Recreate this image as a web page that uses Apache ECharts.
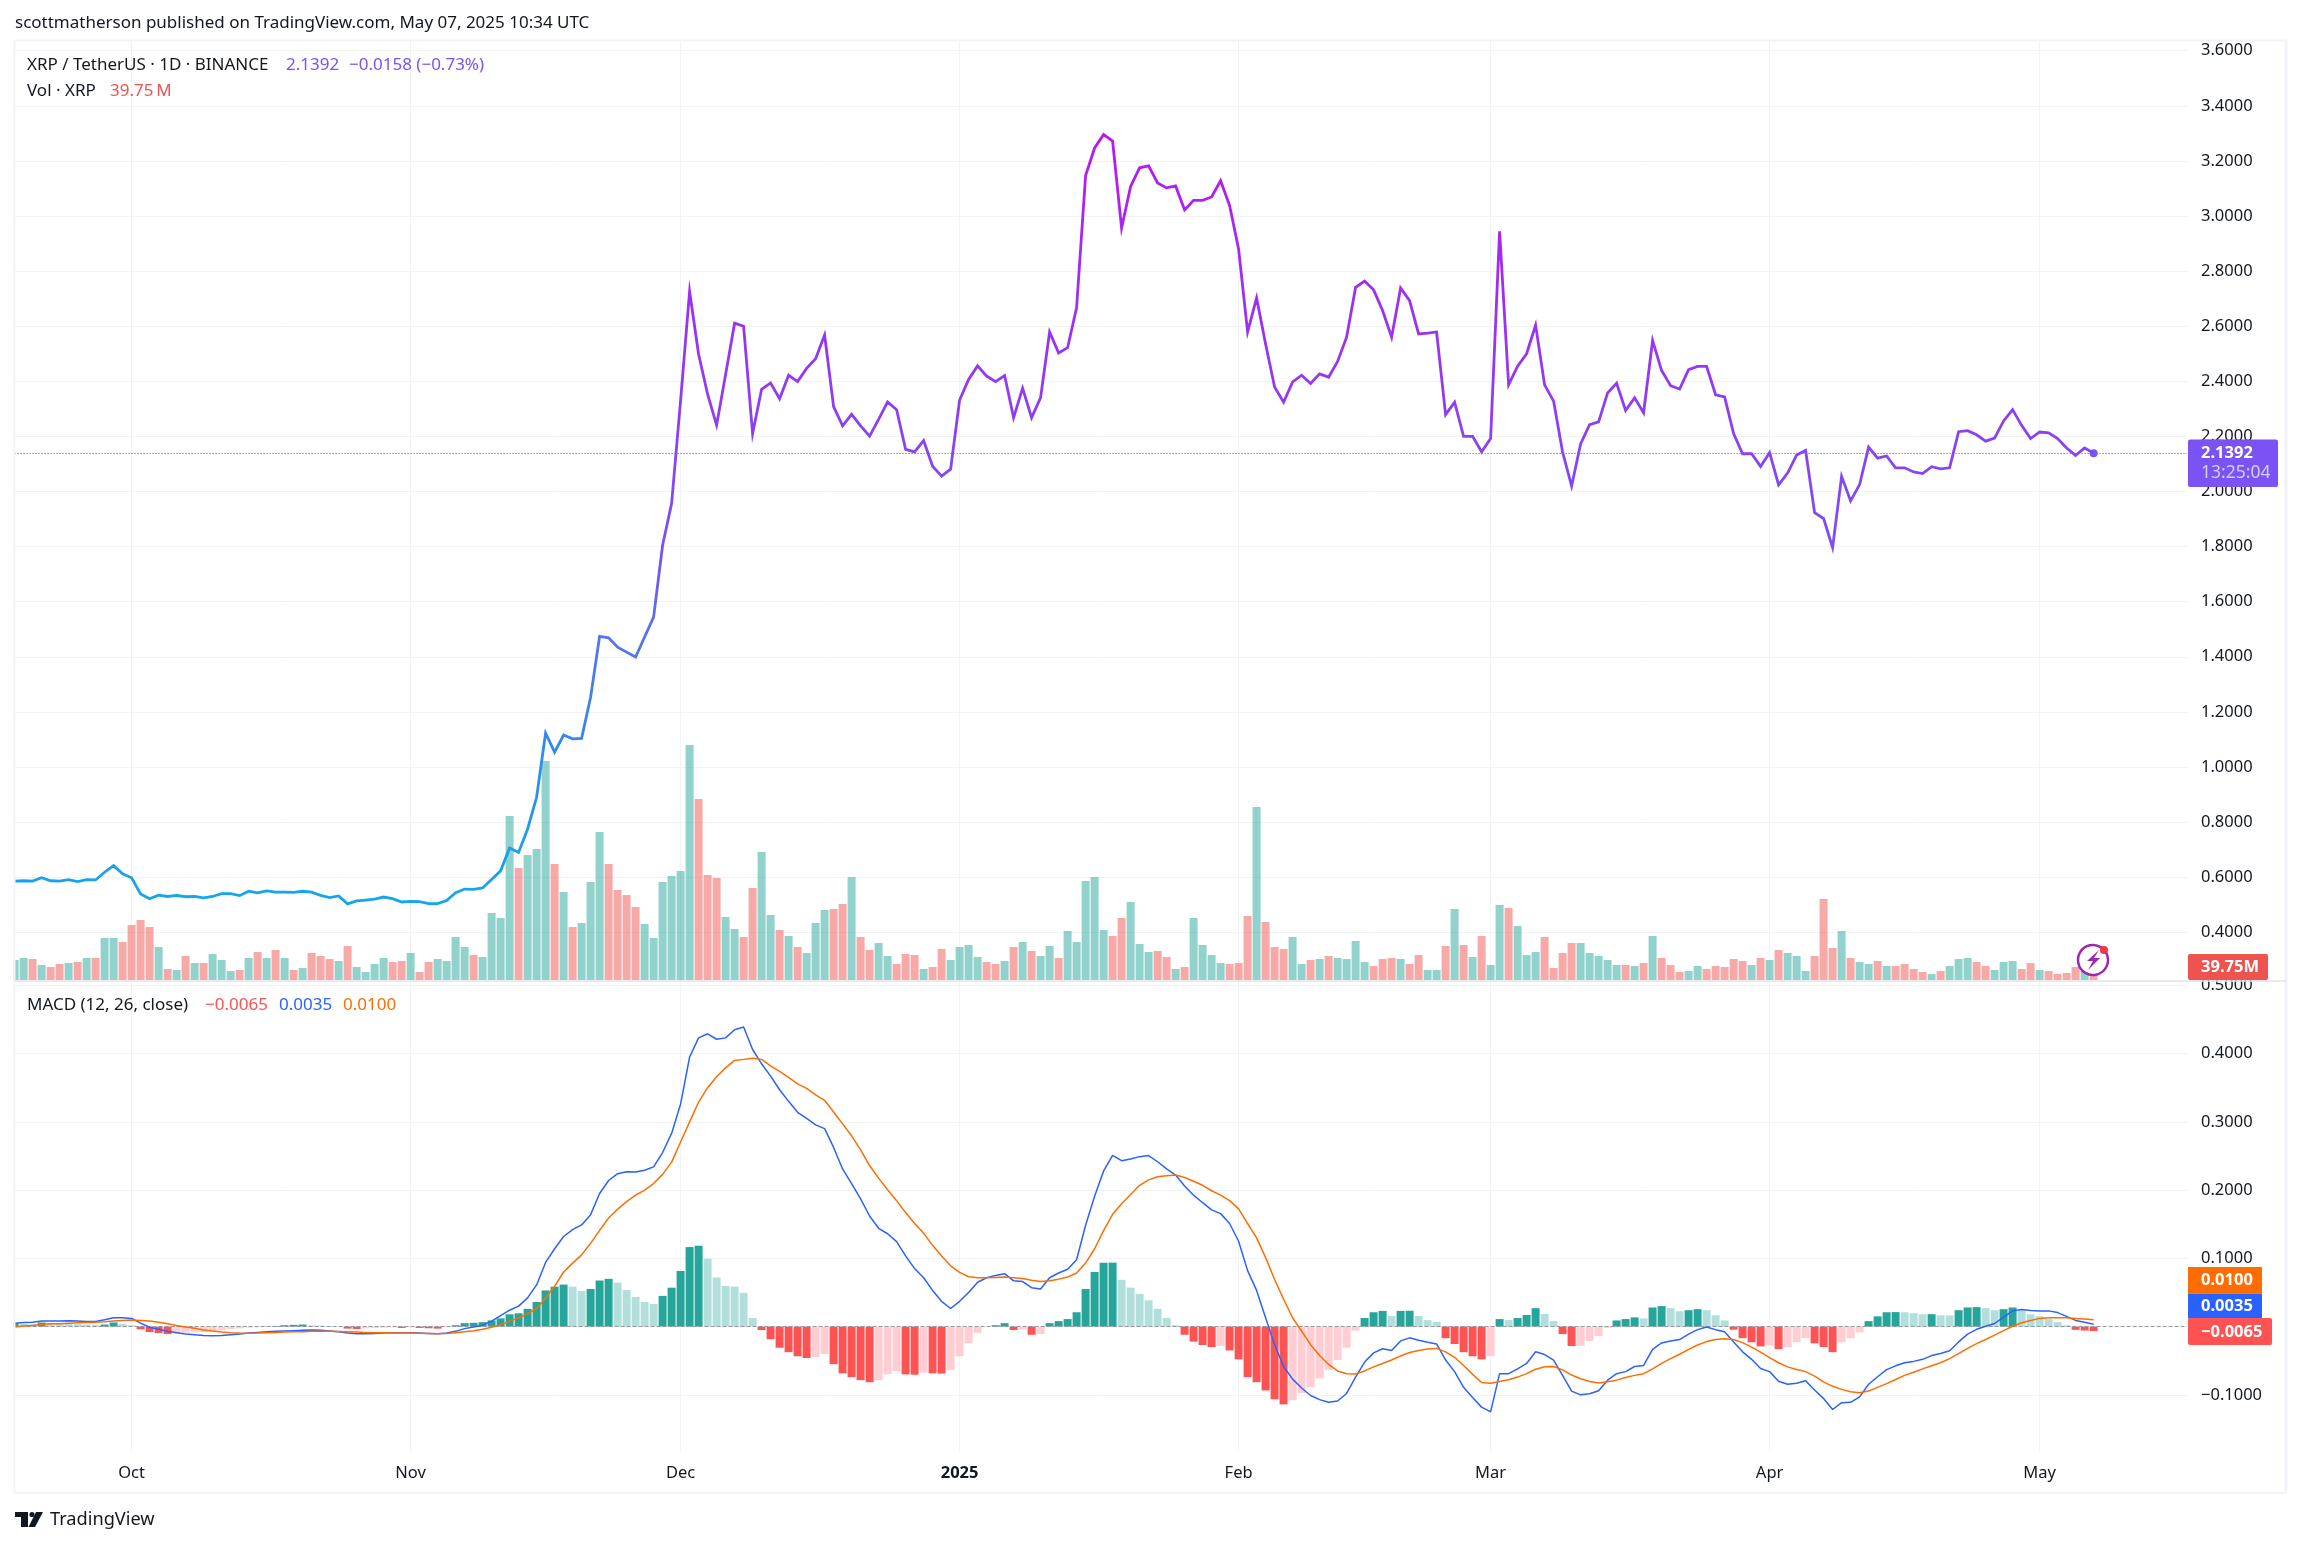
<!DOCTYPE html>
<html><head><meta charset="utf-8">
<style>html,body{margin:0;padding:0;background:#fff}#c{width:2301px;height:1546px}</style>
<script src="https://cdn.jsdelivr.net/npm/echarts@6/dist/echarts.min.js"></script>
</head><body><div id="c"></div>
<script>
// Day index 0 = 2024-09-18, one value per day up to 2025-05-07 (index 231)
const monthTicks = [13,44,74,105,136,164,195,225];
const monthLabels = ['Oct','Nov','Dec','2025','Feb','Mar','Apr','May'];
const priceTicks = [0.4,0.6,0.8,1.0,1.2,1.4,1.6,1.8,2.0,2.2,2.4,2.6,2.8,3.0,3.2,3.4,3.6];
const macdTicks = [-0.1,0.1,0.2,0.3,0.4,0.5];
const close = [
.586,.587,.586,.598,.587,.586,.591,.584,.591,.590,
.618,.642,.612,.598,.539,.522,.535,.530,.534,.529,
.530,.525,.530,.540,.540,.533,.549,.543,.550,.546,
.546,.545,.549,.546,.534,.526,.532,.503,.514,.517,
.520,.528,.522,.510,.512,.511,.504,.504,.515,.544,
.557,.556,.561,.592,.623,.706,.690,.775,.890,1.123,
1.054,1.116,1.102,1.104,1.253,1.474,1.469,1.435,1.417,1.399,
1.472,1.544,1.805,1.956,2.33,2.726,2.498,2.353,2.241,2.425,
2.611,2.600,2.210,2.371,2.394,2.337,2.422,2.399,2.447,2.482,
2.568,2.308,2.238,2.280,2.238,2.201,2.262,2.325,2.297,2.153,
2.144,2.185,2.092,2.056,2.081,2.332,2.407,2.456,2.419,2.399,
2.421,2.268,2.375,2.268,2.341,2.579,2.503,2.522,2.668,3.147,
3.247,3.296,3.272,2.956,3.107,3.175,3.182,3.120,3.102,3.109,
3.022,3.057,3.057,3.069,3.128,3.038,2.880,2.579,2.702,2.535,
2.379,2.324,2.398,2.422,2.392,2.427,2.415,2.472,2.560,2.741,
2.764,2.732,2.657,2.560,2.739,2.693,2.572,2.575,2.579,2.279,
2.324,2.200,2.200,2.144,2.192,2.944,2.387,2.455,2.500,2.604,
2.387,2.328,2.143,2.020,2.173,2.243,2.253,2.358,2.393,2.294,
2.340,2.286,2.548,2.439,2.384,2.372,2.442,2.454,2.454,2.351,
2.343,2.210,2.137,2.137,2.091,2.141,2.024,2.067,2.132,2.149,
1.923,1.902,1.796,2.055,1.966,2.025,2.161,2.121,2.129,2.086,
2.086,2.071,2.065,2.090,2.082,2.086,2.217,2.221,2.206,2.183,
2.194,2.256,2.297,2.240,2.192,2.216,2.213,2.192,2.158,2.131,
2.158,2.1392];
const volume = [
60,66,63,45,39,48,51,54,66,66,
126,126,114,165,180,159,99,33,30,72,
51,51,78,60,27,30,66,84,66,90,
66,30,36,81,72,63,57,102,39,24,
48,66,54,57,81,24,54,63,57,129,
99,75,69,201,186,492,336,375,393,657,
348,264,159,171,294,444,348,270,255,219,
168,126,294,312,327,705,543,315,306,189,
153,129,276,384,195,150,132,99,81,171,
210,213,228,309,129,90,111,72,48,78,
75,33,39,93,60,99,105,69,54,48,
57,99,114,87,72,102,66,147,114,297,
309,150,132,186,234,108,84,87,69,33,
39,186,105,75,51,48,51,192,519,174,
99,93,129,48,60,63,72,66,63,117,
54,42,63,66,63,48,75,30,30,102,
213,105,69,132,45,225,216,162,75,84,
129,36,81,111,111,81,72,60,45,45,
42,51,132,66,45,24,27,42,33,42,
39,63,57,45,66,60,90,81,72,27,
72,243,96,147,66,54,48,57,42,42,
48,33,24,18,27,42,63,66,54,42,
30,54,57,33,51,30,27,18,21,39,
27,39.75];
const volumeDirs = [
"GGRGRRGRGR","GGRRRRGRGR","GRGGGRGRGR","GRGRRRGRGG",
"GGRRGRRGGG","GRGGGGRGGG","RGRGGGRRRR","GGGGGGRRRG",
"GRRGGRGRGG","GRRGRRGGRR","RGRRGGGGRR","GRGRGGRGGG",
"GGRRGGGRRG","RGGGGRRRGR","RRGGRGRGGG","GRRRGRRGGR",
"GRGRGGRGGG","RRRRGGGGGR","GRGRRRGGRR","RRRGRGRGGG",
"RRRGRGGRGR","RRRGRGGGRR","GGGRRGRRRR","GR"].join("");
const macdLine = [
.005,.006,.0065,.008,.008,.008,.0085,.008,.0075,.0075,
.010,.013,.013,.012,.005,-.001,-.004,-.007,-.009,-.011,
-.012,-.013,-.0135,-.013,-.012,-.011,-.0095,-.0085,-.0075,-.007,
-.0065,-.006,-.0055,-.005,-.0055,-.0065,-.0075,-.0095,-.0105,-.0105,
-.010,-.0095,-.009,-.009,-.009,-.0095,-.010,-.0105,-.0095,-.007,
-.003,-.0005,.002,.008,.016,.024,.030,.042,.061,.094,
.114,.132,.142,.149,.164,.195,.214,.224,.227,.2265,
.229,.234,.255,.283,.326,.395,.423,.429,.421,.423,
.435,.439,.406,.385,.367,.347,.330,.314,.305,.2955,
.290,.2625,.231,.2095,.187,.162,.144,.136,.1245,.1035,
.085,.0715,.053,.037,.0265,.037,.050,.065,.0715,.075,
.0775,.067,.066,.057,.055,.0715,.0785,.084,.098,.1485,
.191,.228,.251,.243,.2455,.249,.2505,.2415,.231,.222,
.206,.1925,.1815,.171,.1655,.151,.125,.082,.053,.013,
-.0265,-.0585,-.077,-.090,-.101,-.107,-.111,-.109,-.098,-.074,
-.052,-.0385,-.0325,-.035,-.021,-.0165,-.020,-.023,-.0255,-.049,
-.066,-.089,-.104,-.118,-.125,-.069,-.069,-.062,-.054,-.037,
-.041,-.049,-.0715,-.0945,-.100,-.0985,-.094,-.0785,-.069,-.066,
-.0585,-.057,-.0335,-.024,-.021,-.019,-.011,-.0045,-.0005,-.0045,
-.0075,-.0225,-.037,-.048,-.0615,-.066,-.080,-.0845,-.083,-.0795,
-.093,-.1055,-.1215,-.1115,-.111,-.103,-.0845,-.0735,-.063,-.0575,
-.053,-.051,-.048,-.0425,-.0395,-.0355,-.0225,-.011,-.004,.0005,
.0045,.014,.023,.025,.0235,.023,.023,.0205,.015,.009,
.0063,.0035];
const signalLine = [
-.0005,.001,.0015,.003,.004,.004,.005,.0055,.006,.0065,
.007,.008,.009,.0095,.009,.008,.0065,.004,.0015,-.0005,
-.0025,-.005,-.0065,-.008,-.009,-.0095,-.0098,-.0095,-.009,-.0085,
-.008,-.0077,-.0075,-.007,-.007,-.007,-.0072,-.0075,-.008,-.0085,
-.009,-.009,-.0093,-.0095,-.0095,-.0098,-.010,-.0105,-.010,-.009,
-.0075,-.006,-.004,-.001,.0025,.008,.013,.0185,.0265,.042,
.059,.080,.093,.105,.122,.141,.159,.172,.183,.1925,
.200,.2095,.223,.241,.2705,.300,.329,.350,.366,.379,
.390,.3915,.393,.3915,.382,.374,.365,.3555,.349,.3395,
.3315,.3145,.297,.2795,.259,.236,.2175,.2005,.1845,.167,
.151,.137,.119,.1035,.089,.0795,.073,.0715,.0715,.072,
.0725,.0715,.0705,.068,.066,.067,.0695,.0725,.0785,.093,
.114,.1405,.1645,.180,.1935,.207,.215,.2195,.221,.222,
.2185,.213,.207,.199,.1925,.1845,.1725,.151,.130,.101,
.069,.040,.013,-.0065,-.0265,-.0425,-.0555,-.065,-.069,-.0695,
-.065,-.059,-.054,-.049,-.043,-.038,-.035,-.033,-.032,-.037,
-.045,-.057,-.070,-.082,-.083,-.0805,-.078,-.074,-.069,-.0625,
-.059,-.0585,-.0635,-.071,-.0765,-.0805,-.0825,-.081,-.0785,-.0745,
-.0715,-.069,-.062,-.054,-.047,-.0405,-.0335,-.027,-.022,-.019,
-.018,-.019,-.0235,-.030,-.0375,-.0455,-.053,-.059,-.063,-.066,
-.0725,-.081,-.0875,-.092,-.0955,-.097,-.0945,-.089,-.0835,-.0775,
-.0715,-.067,-.062,-.0575,-.053,-.047,-.0395,-.032,-.025,-.019,
-.0125,-.006,.0005,.0055,.009,.012,.013,.013,.013,.012,
.011,.0100];
const histogram = [
.0045,.004,.0035,.006,.005,.0045,.004,.0035,.003,.0025,
.003,.006,.004,.002,-.004,-.008,-.0095,-.011,-.0095,-.009,
-.0085,-.008,-.007,-.0055,-.0035,-.0025,-.0015,-.001,.0005,.001,
.002,.0025,.003,.002,.0015,.0005,.0003,-.003,-.0035,-.0025,
-.002,-.0015,-.001,-.002,-.001,-.002,-.0025,-.003,-.001,.002,
.005,.0055,.0065,.009,.012,.018,.0195,.026,.036,.053,
.0585,.0615,.0585,.052,.055,.0675,.070,.0645,.0535,.0435,
.036,.033,.045,.057,.0815,.1165,.1185,.0995,.072,.0595,
.0585,.0495,.0125,-.005,-.0185,-.031,-.0375,-.0435,-.046,-.0445,
-.040,-.055,-.0685,-.074,-.0785,-.0815,-.0785,-.070,-.065,-.070,
-.0705,-.0675,-.0685,-.0688,-.0635,-.0435,-.0245,-.0095,-.001,.002,
.005,-.005,-.0045,-.012,-.011,.005,.008,.011,.021,.055,
.080,.0935,.0937,.0685,.057,.048,.0385,.026,.0125,.002,
-.012,-.022,-.027,-.030,-.0285,-.035,-.048,-.074,-.0815,-.0935,
-.1065,-.114,-.108,-.0975,-.089,-.076,-.0635,-.049,-.031,-.006,
.0125,.021,.023,.0155,.023,.0232,.0155,.0095,.007,-.017,
-.0255,-.0375,-.0435,-.048,-.0435,.011,.0095,.0125,.017,.027,
.0185,.008,-.011,-.0285,-.0283,-.021,-.014,-.002,.009,.011,
.0135,.012,.028,.030,.027,.0225,.024,.0255,.024,.0165,
.009,-.0045,-.017,-.023,-.029,-.0275,-.033,-.030,-.023,-.017,
-.0245,-.030,-.0375,-.023,-.017,-.0085,.008,.015,.021,.0212,
.021,.0195,.018,.0182,.0165,.0164,.024,.028,.0285,.027,
.024,.0255,.028,.024,.018,.015,.011,.0065,.002,-.0048,
-.0058,-.0065];

const FONT = '"Noto Sans", sans-serif';
const INK = '#131722';
const GRIDC = '#f2f3f5';
const PURPLE = '#7b52f4';
const X0 = 14.6, XR = 2187, XMAX = (XR - X0) / 9;
const idx = a => a.map((v, i) => [i, v]);

const xAxisBase = {
  type: 'value', min: 0, max: XMAX, position: 'bottom',
  axisLine: {show: false},
  axisTick: {show: false, customValues: monthTicks},
  splitLine: {show: true, lineStyle: {color: GRIDC, width: 1}}
};
const chart = echarts.init(document.getElementById('c'), null, {width: 2301, height: 1546});
chart.setOption({
  animation: false,
  backgroundColor: '#fff',
  grid: [
    {left: X0, width: XR - X0, top: 41, height: 940, containLabel: false},
    {left: X0, width: XR - X0, top: 981.5, height: 469.5, containLabel: false}
  ],
  xAxis: [
    Object.assign({}, xAxisBase, {gridIndex: 0, axisLabel: {show: false, customValues: monthTicks}}),
    Object.assign({}, xAxisBase, {gridIndex: 1, axisLabel: {
      show: true, customValues: monthTicks, margin: 14, color: INK, fontSize: 16.5, fontFamily: FONT,
      formatter: v => { const l = monthLabels[monthTicks.indexOf(Math.round(v))] || ''; return l === '2025' ? '{b|2025}' : l; },
      rich: {b: {fontWeight: 'bold', fontSize: 16.5, fontFamily: FONT, color: INK}}
    }})
  ],
  yAxis: [
    {type: 'value', gridIndex: 0, position: 'right', min: 0.2232, max: 3.6352,
     axisLine: {show: false}, axisTick: {show: false, customValues: priceTicks},
     axisLabel: {show: true, customValues: priceTicks, align: 'left', margin: 14, color: INK, fontSize: 16.5, fontFamily: FONT,
       padding: [2, 0, 0, 0], formatter: v => v.toFixed(4)},
     splitLine: {show: true, lineStyle: {color: GRIDC, width: 1}}},
    {type: 'value', gridIndex: 0, position: 'right', min: -3, max: 2817, show: false, splitLine: {show: false}},
    {type: 'value', gridIndex: 1, position: 'right', min: -0.1823, max: 0.5056,
     axisLine: {show: false}, axisTick: {show: false, customValues: macdTicks},
     axisLabel: {show: true, customValues: macdTicks, align: 'left', margin: 14, color: INK, fontSize: 16.5, fontFamily: FONT,
       padding: [2, 0, 0, 0], formatter: v => (v < 0 ? '\u2212' : '') + Math.abs(v).toFixed(4)},
     splitLine: {show: true, lineStyle: {color: GRIDC, width: 1}}}
  ],
  series: [
    {name: 'Vol', type: 'bar', xAxisIndex: 0, yAxisIndex: 1, barWidth: 8, z: 2, clip: true,
     data: volume.map((v, i) => ({value: [i, v], itemStyle: {color: volumeDirs[i] === 'G' ? 'rgba(38,166,154,0.5)' : 'rgba(239,83,80,0.5)'}}))},
    {name: 'XRP', type: 'line', xAxisIndex: 0, yAxisIndex: 0, z: 5, showSymbol: false, data: idx(close),
     lineStyle: {width: 2.8, join: 'miter', color: new echarts.graphic.LinearGradient(0, 0, 0, 1, [
       {offset: 0, color: '#bb16f2'}, {offset: 0.2, color: '#a02df0'}, {offset: 0.536, color: '#7a50f5'},
       {offset: 0.643, color: '#5a70f0'}, {offset: 0.786, color: '#3288ee'}, {offset: 1, color: '#12a8ea'}])},
     markLine: {silent: true, symbol: 'none', label: {show: false},
       lineStyle: {color: '#6a3df5', type: [1, 2], width: 1}, data: [{yAxis: close[close.length - 1]}]},
     markPoint: {silent: true, symbol: 'circle', symbolSize: 8, itemStyle: {color: PURPLE}, label: {show: false},
       data: [{coord: [close.length - 1, close[close.length - 1]]}]}},
    {name: 'Hist', type: 'bar', xAxisIndex: 1, yAxisIndex: 2, barWidth: 8, z: 2, clip: true,
     data: histogram.map((v, i) => {
       const p = i ? histogram[i - 1] : 0;
       const c = v >= 0 ? (v >= p ? '#26a69a' : '#b2dfdb') : (v <= p ? '#ff5252' : '#ffcdd2');
       return {value: [i, v], itemStyle: {color: c}};
     }),
     markLine: {silent: true, symbol: 'none', label: {show: false},
       lineStyle: {color: '#9598a1', type: 'dashed', width: 1}, data: [{yAxis: 0}]}},
    {name: 'MACD', type: 'line', xAxisIndex: 1, yAxisIndex: 2, z: 5, showSymbol: false, data: idx(macdLine),
     lineStyle: {width: 1.5, color: '#2962ff'}},
    {name: 'Signal', type: 'line', xAxisIndex: 1, yAxisIndex: 2, z: 6, showSymbol: false, data: idx(signalLine),
     lineStyle: {width: 1.5, color: '#ff6d00'}}
  ]
});

// Header, legends, chips and frame
const priceY = chart.convertToPixel({xAxisIndex: 0, yAxisIndex: 0}, [0, close[close.length - 1]])[1];
const T = (x, y, text, fill, size, weight) => ({type: 'text', z: 100, style: {
  x, y, text, fill, fontSize: size || 16, fontFamily: FONT, fontWeight: weight || 'normal', verticalAlign: 'middle', align: 'left'}});
const R = (x, y, w, h, fill, r, z) => ({type: 'rect', z: z || 99, shape: {x, y, width: w, height: h, r: r || 0}, style: {fill}});
const L = (x1, y1, x2, y2, c, w) => ({type: 'line', z: 60, shape: {x1, y1, x2, y2}, style: {stroke: c, lineWidth: w}});
const P = (pts, fill) => ({type: 'polygon', z: 100, shape: {points: pts}, style: {fill}});
chart.setOption({graphic: {elements: [
  R(0, 30, 13.6, 1470, '#fff', 0, 50),
  L(14.5, 40.5, 2286, 40.5, '#f0f3fa', 2), L(14.5, 40, 14.5, 1493, '#f0f3fa', 2),
  L(2286, 40, 2286, 1493, '#f0f3fa', 3), L(14.5, 1493, 2286, 1493, '#f0f3fa', 2),
  L(15, 981, 2286, 981, '#e0e3eb', 1.5),
  T(15, 23, 'scottmatherson published on TradingView.com, May 07, 2025 10:34 UTC', INK, 17),
  T(27, 65, 'XRP / TetherUS \u00b7 1D \u00b7 BINANCE', INK, 17),
  T(286, 65, '2.1392', PURPLE, 17), T(349, 65, '\u22120.0158 (\u22120.73%)', PURPLE, 17),
  T(27, 91, 'Vol \u00b7 XRP', INK, 17), T(110, 91, '39.75\u2009M', '#ef5350', 17),
  T(27, 1005, 'MACD (12, 26, close)', INK, 17),
  T(205, 1005, '\u22120.0065', '#ff5252', 17), T(279, 1005, '0.0035', '#2962ff', 17), T(343, 1005, '0.0100', '#ff6d00', 17),
  R(2188, 439.5, 90, 47.5, PURPLE, 2),
  T(2201, priceY, '2.1392', '#fff', 16.5, 'bold'), T(2201, priceY + 20, '13:25:04', '#d6ccfb', 17.5),
  R(2188, 954, 80, 26, '#ef5350', 2), T(2201, 967, '39.75M', '#fff', 16.5, 'bold'),
  R(2188, 1267, 74, 26.5, '#ff6d00'), T(2201, 1280.5, '0.0100', '#fff', 16.5, 'bold'),
  R(2188, 1293.5, 74, 25, '#2962ff'), T(2201, 1306.5, '0.0035', '#fff', 16.5, 'bold'),
  R(2188, 1318, 84, 27, '#ff5252', 2), T(2201, 1332, '\u22120.0065', '#fff', 16.5, 'bold'),
  // TradingView flash icon
  {type: 'circle', z: 99, shape: {cx: 2093, cy: 960, r: 15}, style: {fill: '#fff'}},
  {type: 'arc', z: 100, shape: {cx: 2093, cy: 960, r: 15, startAngle: -1.0, endAngle: -0.25 + 6.28 - 0.6, clockwise: true}, style: {stroke: '#9c27b0', lineWidth: 2.5, fill: 'none'}},
  P([[2099, 950], [2087, 961], [2093, 961], [2088, 970], [2100, 958], [2094, 958]], '#9c27b0'),
  {type: 'circle', z: 101, shape: {cx: 2104, cy: 950, r: 4}, style: {fill: '#f23645'}},
  // TradingView wordmark
  P([[15, 1512], [28, 1512], [28, 1527], [21, 1527], [21, 1517], [15, 1517]], '#131722'),
  {type: 'circle', z: 100, shape: {cx: 32, cy: 1514.5, r: 2.6}, style: {fill: '#131722'}},
  P([[36, 1512], [43, 1512], [35, 1527], [28.5, 1527]], '#131722'),
  T(50, 1520, 'TradingView', '#131722', 18.2)
]}});
</script></body></html>
